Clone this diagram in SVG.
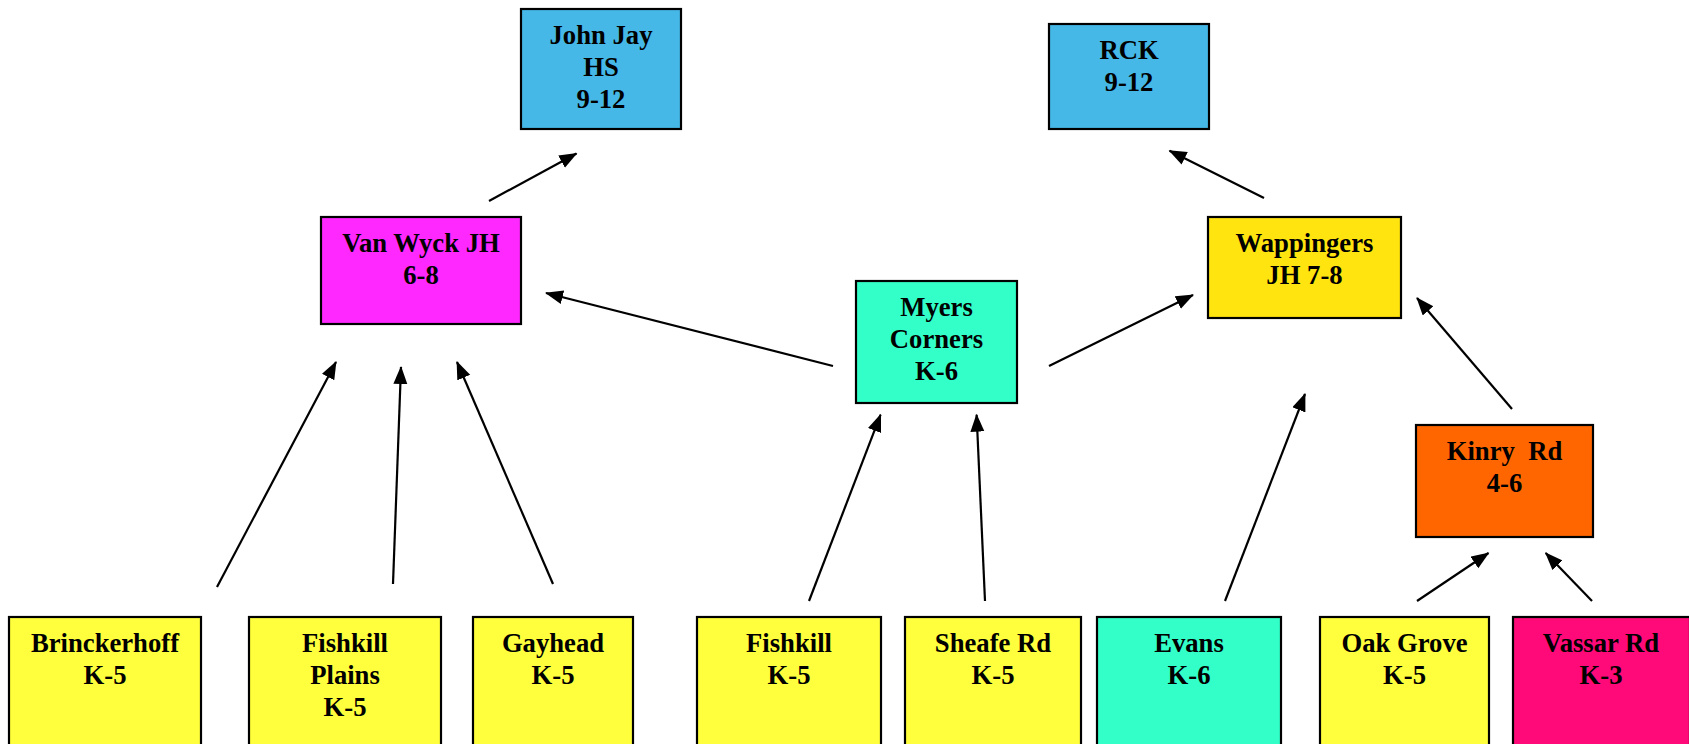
<svg xmlns="http://www.w3.org/2000/svg" width="1689" height="744" viewBox="0 0 1689 744">
<style>
.box{stroke:#000;stroke-width:2.2}
.t{font-family:"Liberation Serif","Times New Roman",serif;font-weight:bold;font-size:26.67px;fill:#000;text-anchor:middle}
.c{stroke:#000;stroke-width:2.2;fill:none;marker-end:url(#ah)}
.blue{fill:#45B8E7}.mag{fill:#FF28FF}.aqua{fill:#33FFC8}.yel{fill:#FFFF3D}.gold{fill:#FFE40F}.org{fill:#FF6600}.pink{fill:#FF0A78}
</style>
<defs>
<marker id="ah" markerUnits="userSpaceOnUse" markerWidth="20" markerHeight="16" refX="17" refY="7" orient="auto">
<path d="M0,0 L18,7 L0,14 z" fill="#000"/>
</marker>
</defs>
<rect width="1689" height="744" fill="#fff"/>
<g id="connectors">
<line class="c" x1="489" y1="201" x2="576.5" y2="153.5"/>
<line class="c" x1="1264" y1="198" x2="1169.5" y2="150.7"/>
<line class="c" x1="833" y1="366" x2="546" y2="293"/>
<line class="c" x1="1049" y1="366" x2="1193" y2="295"/>
<line class="c" x1="1512" y1="409" x2="1417" y2="298"/>
<line class="c" x1="217" y1="587" x2="336" y2="362"/>
<line class="c" x1="393" y1="584" x2="401" y2="367"/>
<line class="c" x1="553" y1="584" x2="457" y2="362"/>
<line class="c" x1="809" y1="601" x2="880.6" y2="414.7"/>
<line class="c" x1="985" y1="601" x2="976.6" y2="414.7"/>
<line class="c" x1="1225" y1="601" x2="1305" y2="394"/>
<line class="c" x1="1417" y1="601" x2="1488.5" y2="553"/>
<line class="c" x1="1592" y1="601" x2="1545.7" y2="553"/>
</g>
<g id="johnjay"><rect class="box blue" x="521" y="9" width="160" height="120"/>
<text class="t" x="601" y="44">John Jay</text><text class="t" x="601" y="76">HS</text><text class="t" x="601" y="108">9-12</text></g>
<g id="rck"><rect class="box blue" x="1049" y="24" width="160" height="105"/>
<text class="t" x="1129" y="59">RCK</text><text class="t" x="1129" y="91">9-12</text></g>
<g id="vanwyck"><rect class="box mag" x="321" y="217" width="200" height="107"/>
<text class="t" x="421" y="252">Van Wyck JH</text><text class="t" x="421" y="284">6-8</text></g>
<g id="wappingers"><rect class="box gold" x="1208" y="217" width="193" height="101"/>
<text class="t" x="1304.5" y="252">Wappingers</text><text class="t" x="1304.5" y="284">JH 7-8</text></g>
<g id="myers"><rect class="box aqua" x="856" y="281" width="161" height="122"/>
<text class="t" x="936.5" y="316">Myers</text><text class="t" x="936.5" y="348">Corners</text><text class="t" x="936.5" y="380">K-6</text></g>
<g id="kinry"><rect class="box org" x="1416" y="425" width="177" height="112"/>
<text class="t" x="1504.5" y="460" xml:space="preserve">Kinry  Rd</text><text class="t" x="1504.5" y="492">4-6</text></g>
<g id="brinckerhoff"><rect class="box yel" x="9" y="617" width="192" height="150"/>
<text class="t" x="105" y="652">Brinckerhoff</text><text class="t" x="105" y="684">K-5</text></g>
<g id="fishkillplains"><rect class="box yel" x="249" y="617" width="192" height="150"/>
<text class="t" x="345" y="652">Fishkill</text><text class="t" x="345" y="684">Plains</text><text class="t" x="345" y="716">K-5</text></g>
<g id="gayhead"><rect class="box yel" x="473" y="617" width="160" height="150"/>
<text class="t" x="553" y="652">Gayhead</text><text class="t" x="553" y="684">K-5</text></g>
<g id="fishkill"><rect class="box yel" x="697" y="617" width="184" height="150"/>
<text class="t" x="789" y="652">Fishkill</text><text class="t" x="789" y="684">K-5</text></g>
<g id="sheafe"><rect class="box yel" x="905" y="617" width="176" height="150"/>
<text class="t" x="993" y="652">Sheafe Rd</text><text class="t" x="993" y="684">K-5</text></g>
<g id="evans"><rect class="box aqua" x="1097" y="617" width="184" height="150"/>
<text class="t" x="1189" y="652">Evans</text><text class="t" x="1189" y="684">K-6</text></g>
<g id="oakgrove"><rect class="box yel" x="1320" y="617" width="169" height="150"/>
<text class="t" x="1404.5" y="652">Oak Grove</text><text class="t" x="1404.5" y="684">K-5</text></g>
<g id="vassar"><rect class="box pink" x="1513" y="617" width="177" height="150"/>
<text class="t" x="1601" y="652">Vassar Rd</text><text class="t" x="1601" y="684">K-3</text></g>
</svg>
